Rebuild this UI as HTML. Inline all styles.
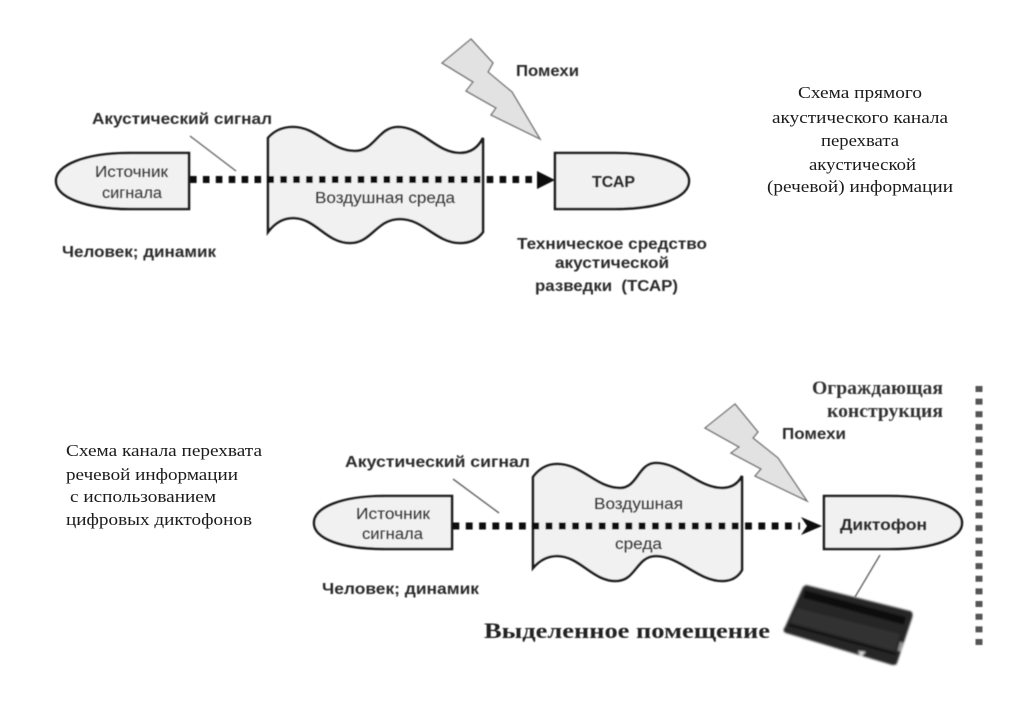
<!DOCTYPE html>
<html lang="ru"><head><meta charset="utf-8"><style>
html,body{margin:0;padding:0;background:#fff;width:1024px;height:715px;overflow:hidden}
svg{display:block}
.b{font-family:"Liberation Sans",sans-serif;font-weight:bold;font-size:15.5px;fill:#2a2a2a}
.r{font-family:"Liberation Sans",sans-serif;font-size:15.5px;fill:#333}
.s{font-family:"Liberation Serif",serif;font-size:17px;fill:#1a1a1a}
.sb{font-family:"Liberation Serif",serif;font-weight:bold;fill:#333}
.shape{fill:#f1f1f1;stroke:#1c1c1c;stroke-width:2.6}
.bolt{fill:#e2e2e2;stroke:#777;stroke-width:1.4;stroke-linejoin:miter}
.dots{stroke:#0c0c0c;stroke-width:7;fill:none}
.thin{stroke:#666;stroke-width:1.4;fill:none}
.soft{filter:url(#bl)}
.softer{filter:url(#bl3)}
</style></head><body>
<svg width="1024" height="715" viewBox="0 0 1024 715" xmlns="http://www.w3.org/2000/svg">
<defs>
<filter id="bl" x="-5%" y="-5%" width="110%" height="110%"><feGaussianBlur stdDeviation="0.4"/></filter>
<filter id="bl2" x="-5%" y="-5%" width="110%" height="110%"><feGaussianBlur stdDeviation="1"/></filter>
<filter id="bl3" x="-5%" y="-5%" width="110%" height="110%"><feGaussianBlur stdDeviation="0.25"/></filter>
</defs>
<g class="soft">
<!-- top diagram -->
<path class="bolt" d="M471 39 L442 63 L473 82 L466 91 L496 108 L491 115 L540 139 L512 92 L488 72 L493 63 Z"/>
<line class="thin" x1="190" y1="136" x2="236" y2="171"/>
<path class="shape" d="M189 153 H130 C85 153 56 165 56 181 C56 197 85 209 130 209 H189 Z"/>
<path class="shape" d="M268 232 V138 C274 131 282 127 293 127 C317 127 330 151 355 151 C375 151 378 127 398 127 C422 127 436 153 460 153 C470 153 478 148 483 138 V232 C478 239 470 243 460 243 C436 243 424 219 400 219 C376 219 372 243 350 243 C326 243 316 218 293 218 C282 218 274 224 268 232 Z"/>
<line class="dots" x1="190" y1="179.5" x2="536" y2="179.5" stroke-dasharray="6.6 6.3"/>
<polygon points="537,171 555,180 537,189" fill="#0c0c0c"/>
<path class="shape" d="M555 153 H615 C660 153 689 165 689 181 C689 197 660 209 615 209 H555 Z"/>

<!-- bottom diagram -->
<path class="bolt" d="M735 404 L705 428 L739 447 L731 453 L761 469 L755 476 L807 501 L778 458 L753 438 L758 432 Z"/>
<line class="thin" x1="453" y1="479" x2="499" y2="513"/>
<path class="shape" d="M452 496 H385 C340 496 314 508 314 523 C314 538 340 549 385 549 H452 Z"/>
<path class="shape" d="M533 568 V477 C539 469 547 464 557 464 C582 464 596 488 620 488 C638 488 638 463 656 463 C680 463 698 488 722 488 C731 488 738 484 742 476 V570 C738 577 731 581 722 581 C698 581 680 556 656 556 C636 556 636 581 616 581 C592 581 580 556 557 556 C547 556 539 561 533 568 Z"/>
<line class="dots" x1="452.5" y1="526" x2="800" y2="526" stroke-dasharray="6.8 6.5"/>
<polygon points="801,517 807,526 801,535 822,526" fill="#0c0c0c"/>
<path class="shape" d="M824 496 H890 C935 496 962 508 962 523 C962 538 935 549 890 549 H824 Z"/>
<line class="thin" x1="880" y1="555" x2="855" y2="597"/>
<line x1="979" y1="386" x2="979" y2="650" stroke="#555" stroke-width="7" stroke-dasharray="6 6.65"/>
</g>

<!-- recorder -->
<g filter="url(#bl2)">
<path d="M806 585 L910 611 C913 612 913 615 912 618 L897 663 C896 666 892 665 889 664 L786 633 C783 632 783 629 785 627 L803 587 Z" fill="#262626"/>
<path d="M804 594 L905 621" stroke="#101010" stroke-width="8" fill="none"/>
<path d="M797 608 L900 634 L895 651 L790 622 Z" fill="#323232"/>
<path d="M789 625 L896 654" stroke="#0c0c0c" stroke-width="2" fill="none"/>
<polygon points="858,651 866,652 861,656" fill="#ddd"/>
<rect x="899" y="642" width="3" height="9" fill="#999" transform="rotate(15 900 646)"/>
</g>

<g class="soft">
<text class="b" x="92" y="124" textLength="180" lengthAdjust="spacingAndGlyphs">Акустический сигнал</text>
<text class="b" x="62" y="257" textLength="154" lengthAdjust="spacingAndGlyphs">Человек; динамик</text>
<text class="r" x="95" y="177" textLength="73" lengthAdjust="spacingAndGlyphs">Источник</text>
<text class="r" x="102" y="198" textLength="60" lengthAdjust="spacingAndGlyphs">сигнала</text>
<text class="r" x="315" y="203" textLength="140" lengthAdjust="spacingAndGlyphs">Воздушная среда</text>
<text class="b" x="516" y="76" textLength="63" lengthAdjust="spacingAndGlyphs">Помехи</text>
<text class="b" x="592" y="187" textLength="43" lengthAdjust="spacingAndGlyphs">ТСАР</text>
<text class="b" x="517" y="249" textLength="190" lengthAdjust="spacingAndGlyphs">Техническое средство</text>
<text class="b" x="555" y="268" textLength="114" lengthAdjust="spacingAndGlyphs">акустической</text>
<text class="b" x="535" y="291" textLength="143" lengthAdjust="spacingAndGlyphs" xml:space="preserve">разведки  (ТСАР)</text>

<text class="b" x="345" y="467" textLength="185" lengthAdjust="spacingAndGlyphs">Акустический сигнал</text>
<text class="r" x="356" y="519" textLength="74" lengthAdjust="spacingAndGlyphs">Источник</text>
<text class="r" x="362" y="539" textLength="61" lengthAdjust="spacingAndGlyphs">сигнала</text>
<text class="b" x="322" y="594" textLength="157" lengthAdjust="spacingAndGlyphs">Человек; динамик</text>
<text class="r" x="594" y="509" textLength="89" lengthAdjust="spacingAndGlyphs">Воздушная</text>
<text class="r" x="615" y="549" textLength="47" lengthAdjust="spacingAndGlyphs">среда</text>
<text class="sb" font-size="22" x="484" y="638" textLength="286" lengthAdjust="spacingAndGlyphs" style="fill:#222">Выделенное помещение</text>
<text class="sb" font-size="18.5" x="812" y="394" textLength="131" lengthAdjust="spacingAndGlyphs">Ограждающая</text>
<text class="sb" font-size="18.5" x="827" y="417" textLength="116" lengthAdjust="spacingAndGlyphs">конструкция</text>
<text class="b" x="782" y="439" textLength="64" lengthAdjust="spacingAndGlyphs">Помехи</text>
<text class="b" x="840" y="530" textLength="87" lengthAdjust="spacingAndGlyphs">Диктофон</text>
</g>

<g class="softer">
<text class="s" x="798" y="98" textLength="124" lengthAdjust="spacingAndGlyphs">Схема прямого</text>
<text class="s" x="772" y="123" textLength="176" lengthAdjust="spacingAndGlyphs">акустического канала</text>
<text class="s" x="821" y="146" textLength="78" lengthAdjust="spacingAndGlyphs">перехвата</text>
<text class="s" x="809" y="170" textLength="107" lengthAdjust="spacingAndGlyphs">акустической</text>
<text class="s" x="767" y="192" textLength="186" lengthAdjust="spacingAndGlyphs">(речевой) информации</text>
<text class="s" x="66" y="456" textLength="196" lengthAdjust="spacingAndGlyphs">Схема канала перехвата</text>
<text class="s" x="66" y="480" textLength="172" lengthAdjust="spacingAndGlyphs">речевой информации</text>
<text class="s" x="70" y="502" textLength="146" lengthAdjust="spacingAndGlyphs">с использованием</text>
<text class="s" x="66" y="525" textLength="186" lengthAdjust="spacingAndGlyphs">цифровых диктофонов</text>
</g>
</svg>
</body></html>
